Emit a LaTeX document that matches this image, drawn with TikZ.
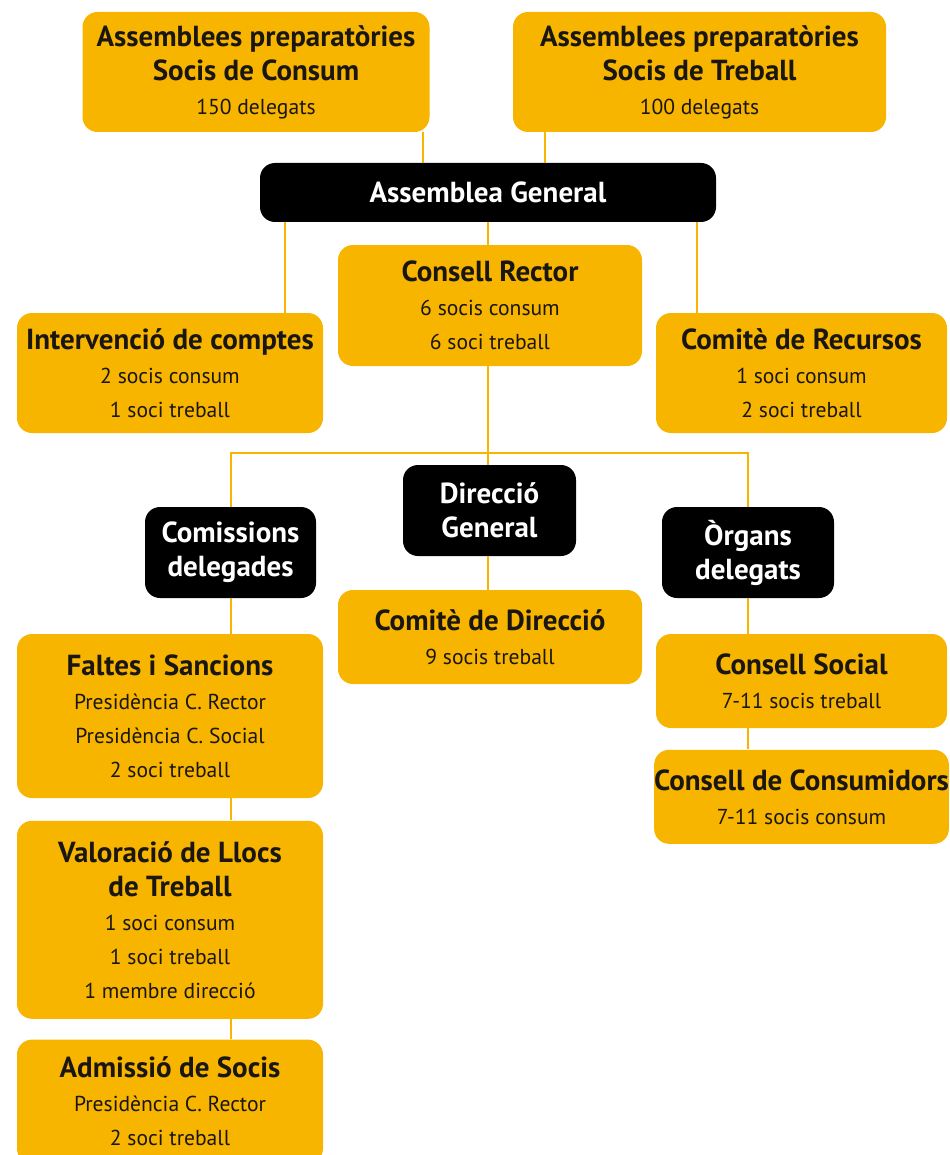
\documentclass[tikz,border=0pt]{standalone}
\usepackage{fontspec}
\setmainfont{PT Sans}
\usepackage{xcolor}
\usepackage{tikz}
\usetikzlibrary{positioning}
\definecolor{gold}{HTML}{F7B500}
\definecolor{ink}{HTML}{1A1613}
\newcommand{\ttl}[1]{{\fontsize{14.5}{17}\selectfont\bfseries #1}}

\begin{document}
\begin{tikzpicture}[
        x=0.5pt, y=-0.5pt,
        font=\fontsize{10.8}{17}\selectfont,
        goldbox/.style={rectangle,rounded corners=7.5pt,fill=gold,text=ink,align=center,inner sep=0pt},
        blackbox/.style={rectangle,rounded corners=7.5pt,fill=black,text=white,align=center,inner sep=0pt,font=\fontsize{14.5}{17}\selectfont\bfseries},
        link/.style={draw=gold,line width=1pt}
    ]
        \useasboundingbox (0,0) rectangle (949,1155);

        \node[goldbox,minimum width=173.5pt,minimum height=60pt] (consum) at (256,72) {\ttl{Assemblees preparatòries}\\\ttl{Socis de Consum}\\150 delegats};
        \node[goldbox,minimum width=186.5pt,minimum height=60pt] (treball) at (699.5,72) {\ttl{Assemblees preparatòries}\\\ttl{Socis de Treball}\\100 delegats};

        \node[blackbox,minimum width=228pt,minimum height=29.5pt] (general) at (488,192.5) {Assemblea General};

        \node[goldbox,minimum width=152pt,minimum height=60.5pt] (rector) at (490,305.5) {\ttl{Consell Rector}\\6 socis consum\\6 soci treball};
        \node[goldbox,minimum width=153pt,minimum height=60pt] (comptes) at (170,373) {\ttl{Intervenció de comptes}\\2 socis consum\\1 soci treball};
        \node[goldbox,minimum width=145.5pt,minimum height=60pt] (recursos) at (801.5,373) {\ttl{Comitè de Recursos}\\1 soci consum\\2 soci treball};

        \node[blackbox,minimum width=86.5pt,minimum height=45.5pt] (direccio) at (489.5,510.5) {Direcció\\General};
        \node[blackbox,minimum width=85.5pt,minimum height=45.5pt] (comissions) at (230.5,552.5) {Comissions\\delegades};
        \node[blackbox,minimum width=86pt,minimum height=45.5pt] (organs) at (748,552.5) {Òrgans\\delegats};

        \node[goldbox,minimum width=152pt,minimum height=47pt] (comite) at (490,637) {\ttl{Comitè de Direcció}\\9 socis treball};

        \node[goldbox,minimum width=153pt,minimum height=82pt] (faltes) at (170,716) {\ttl{Faltes i Sancions}\\Presidència C. Rector\\Presidència C. Social\\2 soci treball};
        \node[goldbox,minimum width=153pt,minimum height=99pt,below=11pt of faltes] (llocs) {\ttl{Valoració de Llocs}\\\ttl{de Treball}\\1 soci consum\\1 soci treball\\1 membre direcció};
        \node[goldbox,minimum width=153pt,minimum height=62pt,below=10pt of llocs] (admissio) {\ttl{Admissió de Socis}\\Presidència C. Rector\\2 soci treball};

        \node[goldbox,minimum width=145.5pt,minimum height=47pt] (social) at (801.5,681) {\ttl{Consell Social}\\7-11 socis treball};
        \node[goldbox,minimum width=145.5pt,minimum height=47pt,below=10.5pt of social] (consumidors) {\ttl{Consell de Consumidors}\\7-11 socis consum};

        \coordinate (cc) at (423,0);
        \coordinate (ct) at (545,0);
        \coordinate (cl) at (285,0);
        \coordinate (cr) at (697,0);
        \coordinate (bus) at (488,453);

        \draw[link] (consum.south -| cc) -- (general.north -| cc);
        \draw[link] (treball.south -| ct) -- (general.north -| ct);
        \draw[link] (general.south -| cl) -- (comptes.north -| cl);
        \draw[link] (general.south -| cr) -- (recursos.north -| cr);
        \draw[link] (general.south) -- (rector.north -| general.south);
        \draw[link] (rector.south -| general.south) -- (direccio.north -| general.south);
        \draw[link] (comissions.north) |- (bus) -| (organs.north);
        \draw[link] (direccio.south -| general.south) -- (comite.north -| general.south);
        \draw[link] (comissions.south) -- (faltes.north -| comissions.south);
        \draw[link] (faltes.south -| comissions.south) -- (llocs.north -| comissions.south);
        \draw[link] (llocs.south -| comissions.south) -- (admissio.north -| comissions.south);
        \draw[link] (organs.south) -- (social.north -| organs.south);
        \draw[link] (social.south -| organs.south) -- (consumidors.north -| organs.south);
    \end{tikzpicture}
\end{document}
